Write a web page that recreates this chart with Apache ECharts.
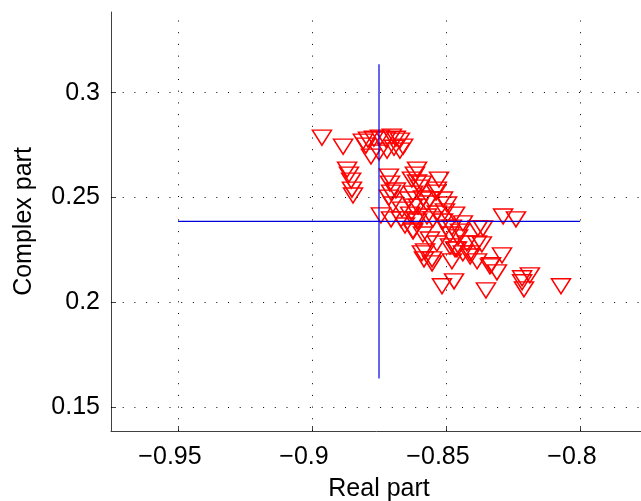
<!DOCTYPE html>
<html>
<head>
<meta charset="utf-8">
<script src="https://cdn.jsdelivr.net/npm/echarts@6/dist/echarts.min.js"></script>
<style>
html, body { margin: 0; padding: 0; background: #fff; }
#chart { width: 641px; height: 501px; }
</style>
</head>
<body>
<div id="chart"></div>
<script>
// eigenvalue estimates
var realPart = [
    -0.8963, -0.8884, -0.8810, -0.8791, -0.8769, -0.8746, -0.8724, -0.8702, -0.8687, -0.8672,
    -0.8780, -0.8750, -0.8720, -0.8694, -0.8672, -0.8660, -0.8799, -0.8869, -0.8862, -0.8854,
    -0.8851, -0.8847, -0.8713, -0.8709, -0.8705, -0.8713, -0.8698, -0.8687, -0.8743, -0.8705,
    -0.8668, -0.8664, -0.8608, -0.8616, -0.8627, -0.8590, -0.8608, -0.8623, -0.8586, -0.8534,
    -0.8526, -0.8511, -0.8571, -0.8623, -0.8604, -0.8634, -0.8608, -0.8571, -0.8549, -0.8534,
    -0.8511, -0.8504, -0.8623, -0.8586, -0.8560, -0.8534, -0.8578, -0.8552, -0.8590, -0.8582,
    -0.8552, -0.8612, -0.8623, -0.8653, -0.8638, -0.8560, -0.8597, -0.8537, -0.8496, -0.8466,
    -0.8478, -0.8448, -0.8485, -0.8466, -0.8437, -0.8422, -0.8410, -0.8384, -0.8362, -0.8332,
    -0.8515, -0.8470, -0.8351, -0.8287, -0.8239, -0.8455, -0.8381, -0.8366, -0.8459, -0.8437,
    -0.8410, -0.8384, -0.8478, -0.8291, -0.8336, -0.8310, -0.8216, -0.8216, -0.8187, -0.8209,
    -0.8071, -0.8485, -0.8500
];
var complexPart = [
    0.2785, 0.2742, 0.2766, 0.2776, 0.2780, 0.2785, 0.2776, 0.2790, 0.2780, 0.2771,
    0.2695, 0.2714, 0.2723, 0.2737, 0.2723, 0.2742, 0.2747, 0.2633, 0.2609, 0.2580,
    0.2537, 0.2509, 0.2599, 0.2566, 0.2523, 0.2499, 0.2466, 0.2533, 0.2414, 0.2395,
    0.2395, 0.2442, 0.2633, 0.2609, 0.2585, 0.2566, 0.2571, 0.2518, 0.2495, 0.2537,
    0.2585, 0.2490, 0.2471, 0.2456, 0.2456, 0.2418, 0.2385, 0.2409, 0.2395, 0.2423,
    0.2385, 0.2433, 0.2337, 0.2323, 0.2299, 0.2280, 0.2242, 0.2204, 0.2233, 0.2204,
    0.2185, 0.2395, 0.2342, 0.2366, 0.2490, 0.2490, 0.2547, 0.2523, 0.2466, 0.2418,
    0.2356, 0.2337, 0.2266, 0.2252, 0.2376, 0.2280, 0.2233, 0.2280, 0.2352, 0.2176,
    0.2076, 0.2099, 0.2056, 0.2409, 0.2395, 0.2309, 0.2352, 0.2276, 0.2252, 0.2233,
    0.2218, 0.2195, 0.2195, 0.2223, 0.2171, 0.2142, 0.2114, 0.2095, 0.2128, 0.2061,
    0.2076, 0.2323, 0.2356
];
var xTicks = [-0.95, -0.9, -0.85, -0.8];
var yTicks = [0.15, 0.2, 0.25, 0.3];
// blue cross: mean +/- range
var crossVertical = [[-0.875, 0.3136], [-0.875, 0.1636]];
var crossHorizontal = [[-0.95, 0.2386], [-0.80, 0.2386]];

var points = [];
for (var i = 0; i < realPart.length; i++) {
    points.push([realPart[i], complexPart[i]]);
}

// dotted grid drawn at the tick values
var gridLines = [];
xTicks.forEach(function (v) { gridLines.push({ xAxis: v }); });
yTicks.forEach(function (v) { gridLines.push({ yAxis: v }); });

function fmt(v) {
    return String(+v.toFixed(3)).replace('-', '\u2212');
}

var axisColor = '#404040';
var font = '"Liberation Sans", Arial, sans-serif';

var chart = echarts.init(document.getElementById('chart'));
var option = {
    backgroundColor: '#fff',
    animation: false,
    grid: { left: 111, top: 12, width: 536, height: 419, containLabel: false, outerBoundsMode: 'none' },
    xAxis: {
        type: 'value',
        min: -0.975,
        max: -0.775,
        name: 'Real part',
        nameLocation: 'middle',
        nameGap: 46,
        nameTextStyle: { fontFamily: font, fontSize: 25, color: '#000' },
        axisLine: { lineStyle: { color: axisColor, width: 1 } },
        axisTick: { inside: true, length: 5, customValues: xTicks, lineStyle: { color: axisColor } },
        axisLabel: {
            customValues: xTicks, formatter: fmt, margin: 14,
            padding: [0, 16, 0, 0],
            fontFamily: font, fontSize: 25, color: '#000'
        },
        splitLine: { show: false }
    },
    yAxis: {
        type: 'value',
        min: 0.1385,
        max: 0.3385,
        name: 'Complex part',
        nameLocation: 'middle',
        nameGap: 74,
        nameTextStyle: { fontFamily: font, fontSize: 25, color: '#000' },
        axisLine: { lineStyle: { color: axisColor, width: 1 } },
        axisTick: { inside: true, length: 5, customValues: yTicks, lineStyle: { color: axisColor } },
        axisLabel: { customValues: yTicks, formatter: fmt, margin: 11, fontFamily: font, fontSize: 25, color: '#000' },
        splitLine: { show: false }
    },
    series: [{
        type: 'scatter',
        data: points,
        symbol: 'triangle',
        symbolRotate: 180,
        symbolSize: [19, 15],
        itemStyle: { color: 'rgba(0,0,0,0)', borderColor: '#ff0000', borderWidth: 1.5, opacity: 1 },
        emphasis: { disabled: true },
        markLine: {
            silent: true,
            symbol: ['none', 'none'],
            label: { show: false },
            lineStyle: { color: '#000', width: 1, type: [1, 10.7] },
            data: gridLines
        },
        z: 2
    }, {
        type: 'line',
        data: crossVertical,
        symbol: 'none',
        lineStyle: { color: '#0000dd', width: 1.2 },
        z: 3
    }, {
        type: 'line',
        data: crossHorizontal,
        symbol: 'none',
        lineStyle: { color: '#0000dd', width: 1.2 },
        z: 3
    }]
};
chart.setOption(option);
</script>
</body>
</html>
